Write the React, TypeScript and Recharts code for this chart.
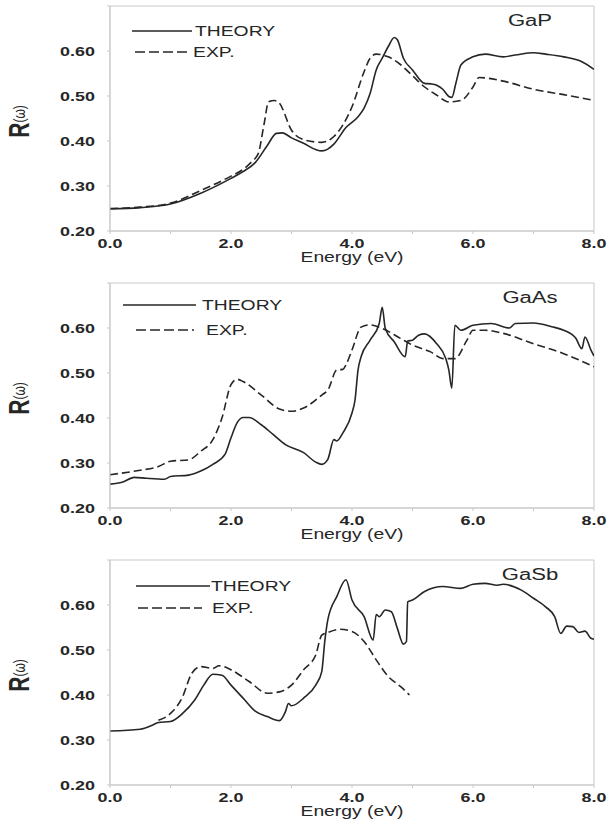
import { LineChart, Line, XAxis, YAxis, ReferenceArea, Legend } from 'recharts';

type Pt = [number, number];

// reflectivity R(w) vs photon energy (eV)
const gapTheory: Pt[] = [
  [0, 0.249], [0.5, 0.252], [1.0, 0.26], [1.5, 0.284], [2.0, 0.317], [2.2, 0.332], [2.4, 0.352],
  [2.6, 0.39], [2.75, 0.417], [2.85, 0.418], [3.0, 0.407], [3.2, 0.395], [3.4, 0.381], [3.5, 0.378],
  [3.6, 0.382], [3.7, 0.393], [3.9, 0.43], [4.1, 0.454], [4.2, 0.473], [4.3, 0.506], [4.4, 0.558],
  [4.5, 0.584], [4.6, 0.61], [4.7, 0.63], [4.75, 0.625], [4.85, 0.584], [5.0, 0.558], [5.2, 0.528],
  [5.3, 0.527], [5.4, 0.524], [5.5, 0.515], [5.6, 0.499], [5.65, 0.497], [5.72, 0.53], [5.8, 0.569],
  [6.0, 0.587], [6.2, 0.593], [6.5, 0.587], [6.7, 0.591], [7.0, 0.596], [7.2, 0.593], [7.5, 0.587],
  [7.8, 0.576], [8.0, 0.559],
];
const gapExp: Pt[] = [
  [0, 0.25], [0.5, 0.253], [1.0, 0.262], [1.5, 0.29], [2.0, 0.322], [2.2, 0.337], [2.35, 0.355],
  [2.45, 0.372], [2.55, 0.44], [2.62, 0.487], [2.72, 0.49], [2.8, 0.484], [3.0, 0.424], [3.2, 0.403],
  [3.5, 0.397], [3.7, 0.41], [4.0, 0.476], [4.2, 0.554], [4.3, 0.584], [4.4, 0.593], [4.6, 0.587],
  [4.8, 0.57], [5.0, 0.545], [5.2, 0.52], [5.4, 0.502], [5.6, 0.487], [5.8, 0.49], [6.0, 0.52],
  [6.1, 0.541], [6.5, 0.533], [7.0, 0.515], [7.5, 0.503], [8.0, 0.49],
];

const gaasTheory: Pt[] = [
  [0, 0.253], [0.2, 0.257], [0.4, 0.268], [0.6, 0.266], [0.9, 0.264], [1.0, 0.27], [1.3, 0.273],
  [1.5, 0.282], [1.7, 0.297], [1.9, 0.319], [2.0, 0.356], [2.1, 0.389], [2.2, 0.401], [2.3, 0.401],
  [2.5, 0.385], [2.7, 0.363], [2.9, 0.341], [3.2, 0.323], [3.4, 0.302], [3.5, 0.297], [3.6, 0.308],
  [3.7, 0.352], [3.75, 0.349], [3.85, 0.367], [4.0, 0.411], [4.05, 0.44], [4.1, 0.507], [4.15, 0.536],
  [4.3, 0.573], [4.45, 0.61], [4.5, 0.646], [4.55, 0.599], [4.7, 0.569], [4.88, 0.536], [4.92, 0.571],
  [5.0, 0.573], [5.1, 0.584], [5.2, 0.587], [5.4, 0.565], [5.55, 0.532], [5.6, 0.507], [5.65, 0.466],
  [5.7, 0.606], [5.8, 0.595], [6.0, 0.606], [6.3, 0.61], [6.6, 0.6], [6.7, 0.61], [7.0, 0.611],
  [7.3, 0.603], [7.5, 0.595], [7.7, 0.577], [7.8, 0.554], [7.85, 0.58], [7.95, 0.551], [8.0, 0.538],
];
const gaasExp: Pt[] = [
  [0, 0.274], [0.5, 0.284], [0.8, 0.292], [1.0, 0.304], [1.3, 0.307], [1.5, 0.326], [1.7, 0.352],
  [1.85, 0.4], [2.0, 0.474], [2.1, 0.486], [2.2, 0.481], [2.5, 0.451], [2.8, 0.42], [3.0, 0.415],
  [3.2, 0.422], [3.5, 0.451], [3.6, 0.462], [3.75, 0.507], [3.85, 0.508], [3.9, 0.518], [4.0, 0.551],
  [4.15, 0.602], [4.3, 0.607], [4.5, 0.599], [4.8, 0.577], [5.0, 0.562], [5.3, 0.547], [5.5, 0.532],
  [5.7, 0.532], [5.9, 0.573], [6.0, 0.595], [6.2, 0.595], [6.5, 0.588], [7.0, 0.565], [7.5, 0.543],
  [8.0, 0.514],
];

const gasbTheory: Pt[] = [
  [0, 0.32], [0.5, 0.324], [0.7, 0.333], [0.8, 0.339], [1.0, 0.341], [1.2, 0.359], [1.4, 0.389],
  [1.55, 0.422], [1.7, 0.446], [1.85, 0.444], [2.0, 0.422], [2.2, 0.393], [2.4, 0.364], [2.6, 0.352],
  [2.8, 0.343], [2.9, 0.363], [2.95, 0.381], [3.0, 0.376], [3.2, 0.393], [3.4, 0.422], [3.5, 0.452],
  [3.55, 0.519], [3.6, 0.567], [3.75, 0.619], [3.9, 0.656], [4.0, 0.611], [4.2, 0.574], [4.35, 0.522],
  [4.4, 0.579], [4.45, 0.574], [4.55, 0.589], [4.65, 0.585], [4.75, 0.548], [4.85, 0.513], [4.9, 0.519],
  [4.92, 0.607], [5.0, 0.611], [5.2, 0.63], [5.5, 0.641], [5.8, 0.637], [6.0, 0.646], [6.2, 0.648],
  [6.4, 0.644], [6.5, 0.646], [6.8, 0.633], [7.0, 0.615], [7.2, 0.596], [7.35, 0.574], [7.45, 0.537],
  [7.55, 0.553], [7.65, 0.552], [7.75, 0.539], [7.85, 0.542], [7.95, 0.526], [8.0, 0.524],
];
const gasbExp: Pt[] = [
  [0.8, 0.344], [1.0, 0.359], [1.2, 0.396], [1.35, 0.448], [1.5, 0.463], [1.7, 0.459], [1.8, 0.465],
  [2.0, 0.456], [2.3, 0.43], [2.6, 0.404], [2.8, 0.407], [3.0, 0.422], [3.2, 0.456], [3.4, 0.489],
  [3.5, 0.533], [3.6, 0.539], [3.8, 0.546], [4.0, 0.541], [4.2, 0.519], [4.4, 0.478], [4.6, 0.441],
  [4.8, 0.419], [4.95, 0.4],
];

const xTicks = [0, 1, 2, 3, 4, 5, 6, 7, 8];
const yTicks = [0.2, 0.3, 0.4, 0.5, 0.6, 0.7];

const FONT = '"Liberation Sans", Arial, Helvetica, sans-serif';
const STRETCH = 1.38; // the scanned figure is stretched sideways
const INK = '#262626';
const FRAME = '#c9c9c9';

const toRows = (pts: Pt[]) => pts.map(([e, r]) => ({ e, r }));

const XTick = ({ x, y, payload }: any) => {
  if (payload.value % 2 !== 0) return <g />;
  return (
    <text transform={`translate(${x},${y + 12}) scale(${STRETCH},1)`} textAnchor="middle"
      fontFamily={FONT} fontWeight="bold" fontSize={13} fill={INK}>
      {payload.value.toFixed(1)}
    </text>
  );
};

const YTick = ({ x, y, payload }: any) => {
  if (payload.value > 0.65) return <g />;
  return (
    <text transform={`translate(${x - 10},${y + 5}) scale(${STRETCH},1)`} textAnchor="end"
      fontFamily={FONT} fontWeight="bold" fontSize={13} fill={INK}>
      {payload.value.toFixed(2)}
    </text>
  );
};

interface LegendPos {
  solid: [number, number, number]; // x1, x2, y
  dashed: [number, number, number];
  theoryX: number;
  expX: number;
}

const LG_LEFT = 110;
const LG_TOP = 10;

const LegendBox = ({ lg }: { lg: LegendPos }) => {
  const t = (x: number, y: number, s: string) => (
    <text transform={`translate(${x - LG_LEFT},${y - LG_TOP + 5}) scale(${STRETCH},1)`}
      fontFamily={FONT} fontSize={14} fill={INK}>{s}</text>
  );
  return (
    <svg width={200} height={60} style={{ display: 'block' }}>
      <line x1={lg.solid[0] - LG_LEFT} x2={lg.solid[1] - LG_LEFT} y1={lg.solid[2] - LG_TOP} y2={lg.solid[2] - LG_TOP}
        stroke={INK} strokeWidth={1.6} />
      {t(lg.theoryX, lg.solid[2], 'THEORY')}
      <line x1={lg.dashed[0] - LG_LEFT} x2={lg.dashed[1] - LG_LEFT} y1={lg.dashed[2] - LG_TOP} y2={lg.dashed[2] - LG_TOP}
        stroke={INK} strokeWidth={1.6} strokeDasharray="10 4" />
      {t(lg.expX, lg.dashed[2], 'EXP.')}
    </svg>
  );
};

interface PanelProps {
  name: string;
  theory: Pt[];
  exp: Pt[];
  legend: LegendPos;
}

const Panel = ({ name, theory, exp, legend }: PanelProps) => (
  <LineChart width={609} height={271} margin={{ top: 6, right: 15, bottom: 0, left: 0 }}>
    <XAxis dataKey="e" type="number" domain={[0, 8]} ticks={xTicks} allowDataOverflow
      height={40} tickSize={3} tickMargin={2} axisLine={{ stroke: FRAME }} tickLine={{ stroke: FRAME }}
      tick={(p: any) => <XTick {...p} />}
      label={{
        content: ({ viewBox }: any) => (
          <text transform={`translate(${viewBox.x + viewBox.width / 2},${viewBox.y + 31}) scale(${STRETCH},1)`}
            textAnchor="middle" fontFamily={FONT} fontSize={14} fill={INK}>Energy (eV)</text>
        ),
      }} />
    <YAxis type="number" domain={[0.2, 0.7]} ticks={yTicks} allowDataOverflow width={110}
      tickSize={3} tickMargin={2} axisLine={{ stroke: FRAME }} tickLine={{ stroke: FRAME }}
      tick={(p: any) => <YTick {...p} />}
      label={{
        content: ({ viewBox }: any) => (
          <text transform={`translate(29,${viewBox.y + viewBox.height / 2 + 3}) scale(${STRETCH},1) rotate(-90)`}
            textAnchor="middle" fontFamily={FONT} fill={INK}>
            <tspan fontSize={21} fontWeight="bold">R</tspan>
            <tspan fontSize={12} dy={-3}>(ω)</tspan>
          </text>
        ),
      }} />
    <ReferenceArea x1={0} x2={8} y1={0.2} y2={0.7} fill="none" stroke={FRAME} strokeWidth={1}
      label={{
        content: ({ viewBox }: any) => (
          <text transform={`translate(${viewBox.x + viewBox.width - 64},${viewBox.y + 20}) scale(${STRETCH},1)`}
            textAnchor="middle" fontFamily={FONT} fontSize={16} fill={INK}>{name}</text>
        ),
      }} />
    <Legend layout="vertical" align="center" verticalAlign="middle"
      wrapperStyle={{ left: LG_LEFT, top: LG_TOP, width: 200, height: 60 }}
      content={() => <LegendBox lg={legend} />} />
    <Line data={toRows(exp)} dataKey="r" name="EXP." type="monotone" stroke={INK} strokeWidth={1.6}
      strokeDasharray="8 4" dot={false} activeDot={false} isAnimationActive={false} />
    <Line data={toRows(theory)} dataKey="r" name="THEORY" type="monotone" stroke={INK} strokeWidth={1.6}
      dot={false} activeDot={false} isAnimationActive={false} />
  </LineChart>
);

const panels = [
  {
    top: 0, name: 'GaP', theory: gapTheory, exp: gapExp,
    legend: { solid: [132, 192, 31], dashed: [135, 188, 52], theoryX: 195, expX: 193 } as LegendPos,
  },
  {
    top: 277, name: 'GaAs', theory: gaasTheory, exp: gaasExp,
    legend: { solid: [123, 196, 28], dashed: [136, 194, 53], theoryX: 202, expX: 206 } as LegendPos,
  },
  {
    top: 554, name: 'GaSb', theory: gasbTheory, exp: gasbExp,
    legend: { solid: [136, 210, 32], dashed: [138, 202, 54], theoryX: 211, expX: 212 } as LegendPos,
  },
];

export default function App() {
  return (
    <div style={{ position: 'absolute', left: 0, top: 0, width: 609, height: 826, background: '#fff' }}>
      {panels.map((p) => (
        <div key={p.name} style={{ position: 'absolute', left: 0, top: p.top }}>
          <Panel name={p.name} theory={p.theory} exp={p.exp} legend={p.legend} />
        </div>
      ))}
    </div>
  );
}
